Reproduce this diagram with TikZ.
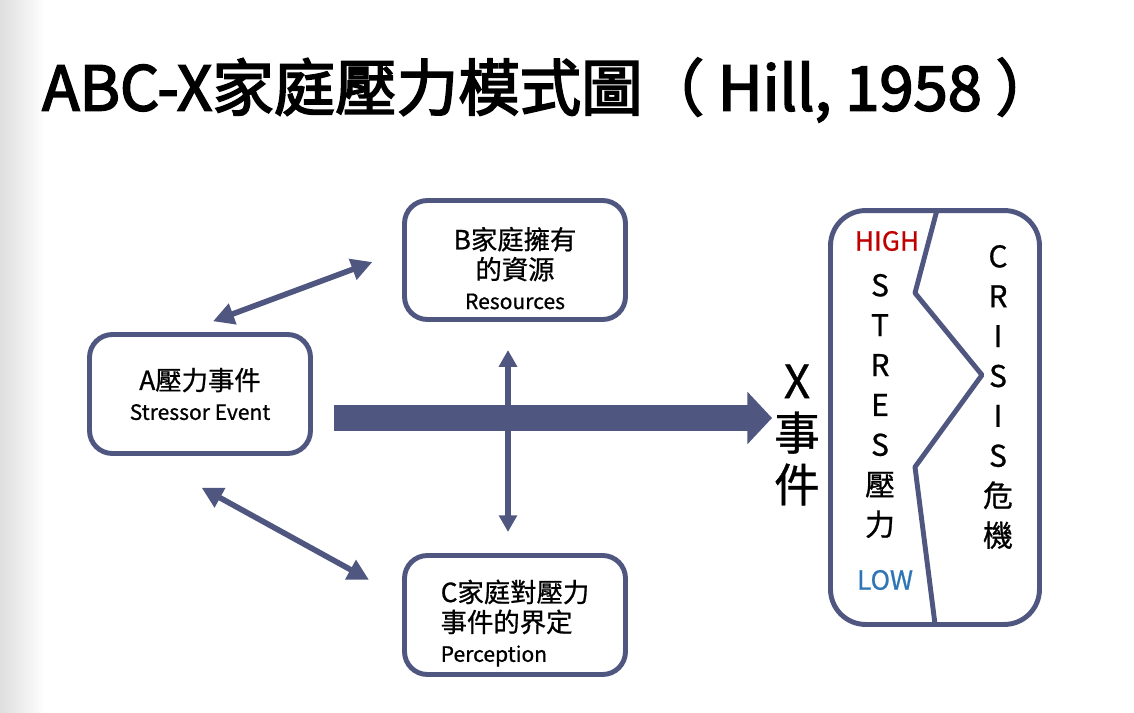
\documentclass[tikz,border=0pt]{standalone}
\usepackage{fontspec}
\setmainfont{Noto Sans CJK TC}[FakeBold=0.8]
\newfontfamily\titlefont{Noto Sans CJK TC}[FakeBold=2.8]
\usetikzlibrary{arrows.meta,positioning}
\definecolor{slate}{RGB}{79,86,128}
\definecolor{highred}{RGB}{192,0,0}
\definecolor{lowblue}{RGB}{46,117,182}

\begin{document}
\begin{tikzpicture}[
        x=0.02cm, y=-0.02cm,
        box/.style={draw=slate, line width=2.8pt, rounded corners=13pt, minimum width=4.42cm, minimum height=2.38cm, align=center,
            font=\fontsize{15}{17}\selectfont},
        twoway/.style={draw=slate, line width=3.2pt, {Triangle[length=12pt,width=12pt]}-{Triangle[length=12pt,width=12pt]}},
        upright/.style={draw=slate, line width=3pt, {Triangle[length=9.5pt,width=10pt]}-{Triangle[length=9.5pt,width=10pt]}},
        bigarrow/.style={draw=slate, line width=14.7pt, -{Triangle[length=14pt,width=29pt]}},
        vtext/.style={align=center, inner sep=0pt, font=\fontsize{17}{22.7}\selectfont}
    ]
    \useasboundingbox (0,0) rectangle (1134,713);
    \shade[left color=black!13, right color=white] (0,0) rectangle (45,713);

    \node[anchor=west, font=\titlefont\fontsize{35}{40}\selectfont] (title) at (36,90) {ABC-X家庭壓力模式圖（ Hill, 1958 ）};

    \node[box] (stressor) at (200,394) {A壓力事件\\{\fontsize{12}{17}\selectfont Stressor Event}};
    \node[box] (resources) at (515,260) {\rule{0pt}{22pt}B家庭擁有\\的資源\\{\fontsize{12}{17}\selectfont Resources}};
    \node[box, align=left] (perception) at (515,615) {\rule{0pt}{22pt}C家庭對壓力\\事件的界定\\{\fontsize{12}{17}\selectfont Perception}};

    \node[align=center, inner sep=0pt, font=\fontsize{26}{29.5}\selectfont] (xevent) at (797,435) {X\\事\\件};

    % right panel: stress vs crisis
    \node[draw=slate, line width=2.8pt, rounded corners=20pt, minimum width=4.18cm, minimum height=8.28cm] (crisisbox) at (935,417.5) {};
    \draw[slate, line width=2.8pt, line join=round] (937,210) -- (915,293) -- (982,375) -- (915,467) -- (935,624);
    \node[text=highred, font=\fontsize{15}{17}\selectfont] (high) at (887,241) {HIGH};
    \node[text=lowblue, font=\fontsize{15}{17}\selectfont] (low) at (885,580) {LOW};
    \node[vtext] (stress) at (880,406) {S\\T\\R\\E\\S\\壓\\力};
    \node[vtext] (crisis) at (998,397) {C\\R\\I\\S\\I\\S\\危\\機};

    \coordinate (shaft) at ([shift={(21,24)}]stressor.east);
    \draw[bigarrow, shorten >=1pt] (shaft) -- (shaft -| xevent.west);
    \draw[upright, shorten <=16pt, shorten >=12pt] ([shift={(-7,0)}]resources.south) -- ([shift={(-7,0)}]perception.north);
    \draw[twoway, shorten <=17.6pt, shorten >=18pt] ([shift={(-16,0)}]stressor.north) -- ([shift={(0,-9)}]resources.west);
    \draw[twoway, shorten <=37.4pt, shorten >=21.5pt] ([shift={(-56,0)}]stressor.south) -- ([shift={(0,-17)}]perception.west);
\end{tikzpicture}
\end{document}
